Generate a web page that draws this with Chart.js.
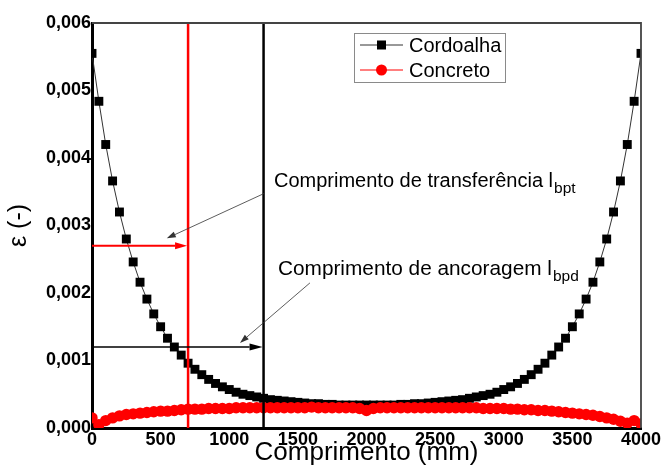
<!DOCTYPE html>
<html><head><meta charset="utf-8">
<script src="https://cdn.jsdelivr.net/npm/chart.js@4"></script>
<style>html,body{margin:0;padding:0;background:#fff}</style>
</head><body>
<canvas id="c" width="664" height="468"></canvas>
<script>
// ---- data ----
const comprimento = [
  0, 50, 100, 150, 200, 250, 300, 350, 400, 450,
  500, 550, 600, 650, 700, 750, 800, 850, 900, 950,
  1000, 1050, 1100, 1150, 1200, 1250, 1300, 1350, 1400, 1450,
  1500, 1550, 1600, 1650, 1700, 1750, 1800, 1850, 1900, 1950,
  2000, 2050, 2100, 2150, 2200, 2250, 2300, 2350, 2400, 2450,
  2500, 2550, 2600, 2650, 2700, 2750, 2800, 2850, 2900, 2950,
  3000, 3050, 3100, 3150, 3200, 3250, 3300, 3350, 3400, 3450,
  3500, 3550, 3600, 3650, 3700, 3750, 3800, 3850, 3900, 3950,
  4000
];
const cordoalha = [
  0.00555, 0.00484, 0.00420, 0.00366, 0.00320, 0.00280, 0.00246, 0.00216, 0.00191, 0.00169,
  0.00150, 0.00133, 0.00120, 0.00108, 0.00096, 0.00087, 0.00079, 0.00072, 0.00066, 0.00061,
  0.00057, 0.00053, 0.00050, 0.00048, 0.00046, 0.00044, 0.00042, 0.00041, 0.00040, 0.00039,
  0.00038, 0.00037, 0.00036, 0.00036, 0.00035, 0.00035, 0.00034, 0.00034, 0.00034, 0.00034,
  0.00034, 0.00034, 0.00034, 0.00034, 0.00034, 0.00035, 0.00035, 0.00036, 0.00036, 0.00037,
  0.00038, 0.00039, 0.00040, 0.00041, 0.00042, 0.00044, 0.00046, 0.00048, 0.00050, 0.00053,
  0.00057, 0.00061, 0.00066, 0.00072, 0.00079, 0.00087, 0.00096, 0.00108, 0.00120, 0.00133,
  0.00150, 0.00169, 0.00191, 0.00216, 0.00246, 0.00280, 0.00320, 0.00366, 0.00420, 0.00484,
  0.00555
];
const concreto = [
  0.00015, 0.00005, 0.00011, 0.00015, 0.00018, 0.00020, 0.00021, 0.00022, 0.00023, 0.00024,
  0.00025, 0.00025, 0.00026, 0.00027, 0.00028, 0.00028, 0.00028, 0.00029, 0.00029, 0.00029,
  0.00029, 0.00030, 0.00030, 0.00030, 0.00030, 0.00030, 0.00030, 0.00030, 0.00030, 0.00030,
  0.00030, 0.00030, 0.00031, 0.00030, 0.00030, 0.00030, 0.00030, 0.00030, 0.00030, 0.00029,
  0.00026, 0.00029, 0.00030, 0.00030, 0.00030, 0.00030, 0.00030, 0.00030, 0.00030, 0.00030,
  0.00030, 0.00030, 0.00030, 0.00030, 0.00030, 0.00030, 0.00030, 0.00029, 0.00029, 0.00029,
  0.00029, 0.00028, 0.00028, 0.00027, 0.00027, 0.00026, 0.00026, 0.00025, 0.00024, 0.00023,
  0.00022, 0.00021, 0.00020, 0.00019, 0.00017, 0.00015, 0.00013, 0.00010, 0.00007, 0.00011,
  0.00006
];
const seriesNames = ['Cordoalha', 'Concreto'];
const xTickValues = [0, 500, 1000, 1500, 2000, 2500, 3000, 3500, 4000];
const yTickValues = [0, 0.001, 0.002, 0.003, 0.004, 0.005, 0.006];
const xTitle = 'Comprimento (mm)';
const yTitle = 'ε (-)';
// marked lengths (mm) and the strain level of their dimension arrows
const lbpt = 700, lbpd = 1250;
const lbptLevel = 0.0027, lbpdLevel = 0.0012;
// annotation labels: [main text, subscript, x (mm), y (strain) at baseline]
const labelTexts = ['Comprimento de transferência l', 'Comprimento de ancoragem l'];
const labelSubs = ['bpt', 'bpd'];
const labelAt = [[1326, 0.00357], [1355, 0.00227]];
// leader arrows: from [x,y] to [x,y] in data units
const leaderFrom = [[1260, 0.00348], [1588, 0.00215]];
const leaderTo = [[545, 0.00281], [1078, 0.00126]];

const FONT = "'Liberation Sans', Arial, sans-serif";

function arrow(ctx, x1, y1, x2, y2, color, lw, hl, hw) {
  const a = Math.atan2(y2 - y1, x2 - x1);
  const bx = x2 - hl * Math.cos(a), by = y2 - hl * Math.sin(a);
  ctx.strokeStyle = color; ctx.fillStyle = color; ctx.lineWidth = lw;
  ctx.beginPath(); ctx.moveTo(x1, y1); ctx.lineTo(bx, by); ctx.stroke();
  ctx.beginPath();
  ctx.moveTo(x2, y2);
  ctx.lineTo(bx + hw * Math.sin(a), by - hw * Math.cos(a));
  ctx.lineTo(bx - hw * Math.sin(a), by + hw * Math.cos(a));
  ctx.closePath(); ctx.fill();
}

const annot = {
  id: 'annot',
  afterDatasetsDraw(chart) {
    const {ctx, scales: {x, y}, chartArea: a} = chart;
    ctx.save();
    ctx.lineWidth = 2.5;
    ctx.strokeStyle = '#ff0000';
    let px = x.getPixelForValue(lbpt);
    ctx.beginPath(); ctx.moveTo(px, a.top); ctx.lineTo(px, a.bottom); ctx.stroke();
    ctx.strokeStyle = '#000';
    px = x.getPixelForValue(lbpd);
    ctx.beginPath(); ctx.moveTo(px, a.top); ctx.lineTo(px, a.bottom); ctx.stroke();
    arrow(ctx, a.left, y.getPixelForValue(lbptLevel), x.getPixelForValue(lbpt) - 1, y.getPixelForValue(lbptLevel), '#ff0000', 2, 12, 3.5);
    arrow(ctx, a.left, y.getPixelForValue(lbpdLevel), x.getPixelForValue(lbpd) - 1, y.getPixelForValue(lbpdLevel), '#000', 1.3, 13, 3.5);
    for (let i = 0; i < leaderFrom.length; i++) {
      arrow(ctx, x.getPixelForValue(leaderFrom[i][0]), y.getPixelForValue(leaderFrom[i][1]),
        x.getPixelForValue(leaderTo[i][0]), y.getPixelForValue(leaderTo[i][1]), '#333', 0.8, 9, 3);
    }
    ctx.fillStyle = '#000';
    ctx.textBaseline = 'alphabetic';
    ctx.textAlign = 'left';
    const sizes = [20, 20.8];
    for (let i = 0; i < labelTexts.length; i++) {
      const lx = x.getPixelForValue(labelAt[i][0]), ly = y.getPixelForValue(labelAt[i][1]);
      ctx.font = sizes[i] + 'px ' + FONT;
      ctx.fillText(labelTexts[i], lx, ly);
      const w = ctx.measureText(labelTexts[i]).width;
      ctx.font = '15.5px ' + FONT;
      ctx.fillText(labelSubs[i], lx + w + 1, ly + 6);
    }
    ctx.restore();
  },
  afterDraw(chart) {
    const {ctx, chartArea: a} = chart;
    ctx.save();
    ctx.strokeStyle = '#444'; ctx.lineWidth = 1.8;
    ctx.beginPath();
    ctx.moveTo(a.left, a.top); ctx.lineTo(a.right, a.top); ctx.lineTo(a.right, a.bottom);
    ctx.stroke();
    ctx.strokeStyle = '#8a8a8a'; ctx.lineWidth = 1;
    ctx.strokeRect(354.5, 33.5, 151, 49);
    const ds = chart.data.datasets;
    const rows = [45, 70];
    for (let i = 0; i < ds.length; i++) {
      const yy = rows[i];
      ctx.strokeStyle = ds[i].borderColor; ctx.lineWidth = 1;
      ctx.beginPath(); ctx.moveTo(360, yy); ctx.lineTo(403, yy); ctx.stroke();
      ctx.fillStyle = ds[i].pointBackgroundColor;
      if (ds[i].pointStyle === 'rect') {
        ctx.fillRect(377, yy - 4.5, 9, 9);
      } else {
        ctx.beginPath(); ctx.arc(381.5, yy, 5.5, 0, Math.PI * 2); ctx.fill();
      }
      ctx.fillStyle = '#000';
      ctx.font = '20px ' + FONT;
      ctx.textBaseline = 'middle'; ctx.textAlign = 'left';
      ctx.fillText(ds[i].label, 409, yy + 1);
    }
    ctx.restore();
  }
};

new Chart(document.getElementById('c'), {
  type: 'line',
  data: {
    datasets: [
      {
        label: seriesNames[0],
        data: comprimento.map((v, i) => ({x: v, y: cordoalha[i]})),
        borderColor: '#333', borderWidth: 1,
        pointStyle: 'rect', pointRadius: 6.3,
        pointBackgroundColor: '#000', pointBorderColor: '#000', pointBorderWidth: 0,
        order: 2
      },
      {
        label: seriesNames[1],
        data: comprimento.map((v, i) => ({x: v, y: concreto[i]})),
        borderColor: '#ff0000', borderWidth: 1,
        pointStyle: 'circle', pointRadius: 5.7,
        pointBackgroundColor: '#ff0000', pointBorderColor: '#ff0000', pointBorderWidth: 0,
        order: 1
      }
    ]
  },
  options: {
    responsive: false, animation: false, devicePixelRatio: 1,
    layout: {padding: {top: 23, right: 23, left: 0, bottom: 0}},
    plugins: {legend: {display: false}, tooltip: {enabled: false}},
    elements: {line: {tension: 0}},
    scales: {
      x: {
        type: 'linear', min: 0, max: 4000,
        afterBuildTicks: s => { s.ticks = xTickValues.map(v => ({value: v})); },
        afterFit: s => { s.height = 40; },
        grid: {display: false, drawTicks: false},
        border: {display: true, color: '#000', width: 3},
        ticks: {color: '#000', font: {family: FONT, size: 18, weight: 'bold'}, padding: 1, maxRotation: 0,
          callback: v => String(v)},
        title: {display: true, text: xTitle, color: '#000', font: {family: FONT, size: 26}, padding: 0}
      },
      y: {
        min: 0, max: 0.006,
        afterBuildTicks: s => { s.ticks = yTickValues.map(v => ({value: v})); },
        afterFit: s => { s.width = 92; },
        grid: {display: false, drawTicks: false},
        border: {display: true, color: '#000', width: 3},
        ticks: {color: '#000', font: {family: FONT, size: 18, weight: 'bold'}, padding: 1,
          callback: v => v.toFixed(3).replace('.', ',')},
        title: {display: true, text: yTitle, color: '#000', font: {family: FONT, size: 25}, padding: {top: 4, bottom: 0}}
      }
    }
  },
  plugins: [annot]
});
</script>
</body></html>
